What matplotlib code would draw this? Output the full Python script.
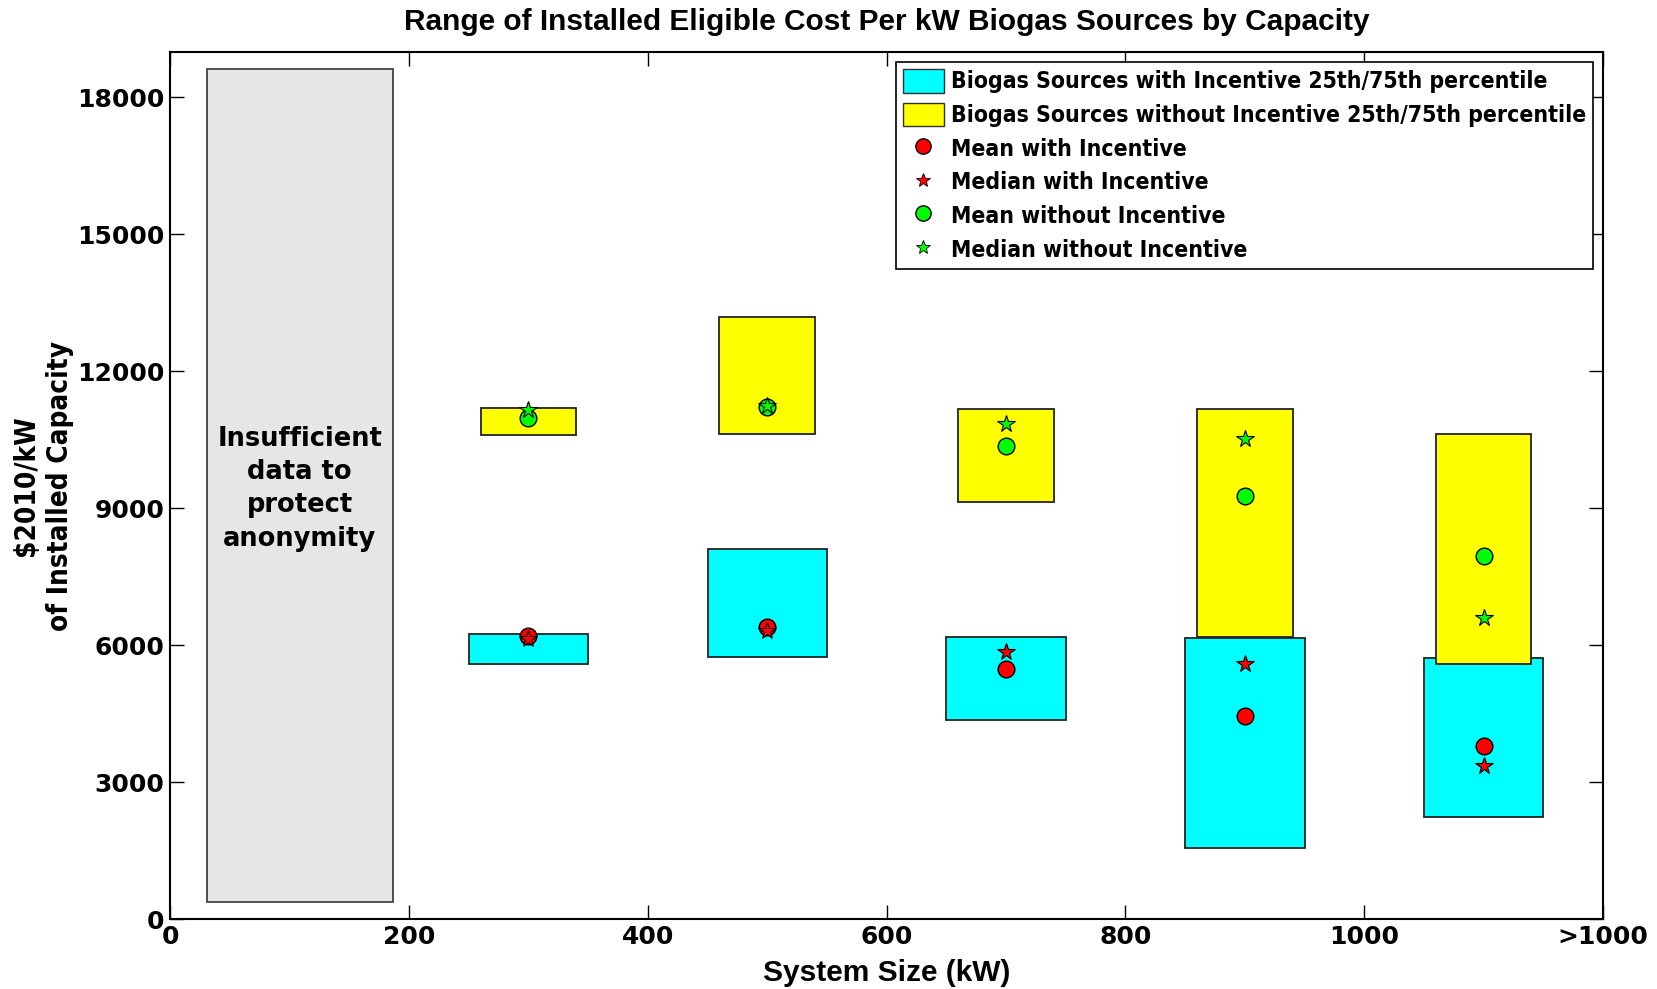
import numpy as np
import matplotlib
matplotlib.use('Agg')
import matplotlib.pyplot as plt
from matplotlib.patches import Patch
from matplotlib.lines import Line2D

# system size bins (kW, bin centre)
sizes = [300, 500, 700, 900, 1100]

# with incentive: 25th / 75th percentile, mean, median ($2010/kW)
inc_p25 = [5600, 5750, 4360, 1570, 2250]
inc_p75 = [6260, 8110, 6190, 6160, 5730]
inc_mean = [6200, 6400, 5490, 4450, 3790]
inc_median = [6150, 6320, 5850, 5590, 3350]

# without incentive
noinc_p25 = [10600, 10640, 9150, 6180, 5600]
noinc_p75 = [11200, 13200, 11180, 11180, 10620]
noinc_mean = [10970, 11220, 10360, 9270, 7950]
noinc_median = [11150, 11250, 10840, 10520, 6590]

xticks = [0, 200, 400, 600, 800, 1000, 1200]
xticklabels = ['0', '200', '400', '600', '800', '1000', '>1000']
yticks = [0, 3000, 6000, 9000, 12000, 15000, 18000]

arial = ['Liberation Sans', 'DejaVu Sans']

fig = plt.figure(figsize=(16.57, 9.89), dpi=100)
ax = fig.add_axes([0.1027, 0.0704, 0.8648, 0.8772])

# grey "no data" area
ax.bar(108.5, 18230, width=156, bottom=390, color='#E6E6E6',
       edgecolor='#333333', linewidth=1.2, zorder=1)
ax.text(108.5, 9430, 'Insufficient\ndata to\nprotect\nanonymity', ha='center',
        va='center', fontsize=18.5, fontweight='bold', family='DejaVu Sans',
        linespacing=1.36, zorder=2)

inc_h = np.array(inc_p75) - np.array(inc_p25)
noinc_h = np.array(noinc_p75) - np.array(noinc_p25)

ax.bar(sizes, inc_h, width=100, bottom=inc_p25, color='#00FFFF',
       edgecolor='#222222', linewidth=1.3, zorder=2)
ax.bar(sizes, noinc_h, width=80, bottom=noinc_p25, color='#FFFF00',
       edgecolor='#222222', linewidth=1.3, zorder=3)

ax.plot(sizes, inc_mean, 'o', color='#FF0000', mec='k', mew=1, ms=12, zorder=4)
ax.plot(sizes, inc_median, '*', color='#FF0000', mec='k', mew=0.8, ms=13, zorder=5)
ax.plot(sizes, noinc_mean, 'o', color='#00FF00', mec='k', mew=1, ms=12, zorder=4)
ax.plot(sizes, noinc_median, '*', color='#00FF00', mec='k', mew=0.8, ms=13, zorder=5)

ax.set_xlim(0, 1200)
ax.set_ylim(0, 19000)
ax.set_xticks(xticks)
ax.set_xticklabels(xticklabels)
ax.set_yticks(yticks)
ax.tick_params(direction='in', length=10, width=1, top=True, right=True,
               labelsize=18, pad=4)
for lab in ax.get_xticklabels() + ax.get_yticklabels():
    lab.set_fontweight('bold')
    lab.set_family('DejaVu Sans')
for sp in ax.spines.values():
    sp.set_linewidth(1.5)

ax.set_title('Range of Installed Eligible Cost Per kW Biogas Sources by Capacity',
             fontsize=21.5, fontweight='bold', family=arial, pad=16)
ax.set_xlabel('System Size (kW)', fontsize=21.5, fontweight='bold', family=arial,
              labelpad=7)
ax.set_ylabel('$2010/kW\nof Installed Capacity', fontsize=20, fontweight='bold',
              family='DejaVu Sans', stretch='condensed', linespacing=1.3,
              labelpad=2)

handles = [
    Patch(facecolor='#00FFFF', edgecolor='#333333', label='Biogas Sources with Incentive 25th/75th percentile'),
    Patch(facecolor='#FFFF00', edgecolor='#333333', label='Biogas Sources without Incentive 25th/75th percentile'),
    Line2D([], [], ls='', marker='o', color='#FF0000', mec='k', ms=11, label='Mean with Incentive'),
    Line2D([], [], ls='', marker='*', color='#FF0000', mec='k', mew=0.6, ms=10, label='Median with Incentive'),
    Line2D([], [], ls='', marker='o', color='#00FF00', mec='k', ms=11, label='Mean without Incentive'),
    Line2D([], [], ls='', marker='*', color='#00FF00', mec='k', mew=0.6, ms=10, label='Median without Incentive'),
]
leg = ax.legend(handles=handles, loc='upper right', fancybox=False,
                edgecolor='k', framealpha=1, borderaxespad=0.45,
                prop={'family': 'DejaVu Sans', 'stretch': 'condensed',
                      'weight': 'bold', 'size': 16.5},
                handlelength=1.8, handleheight=1.2, handletextpad=0.3,
                labelspacing=0.4, borderpad=0.3)
leg.get_frame().set_linewidth(1.2)

fig.savefig('out.png', dpi=100)
